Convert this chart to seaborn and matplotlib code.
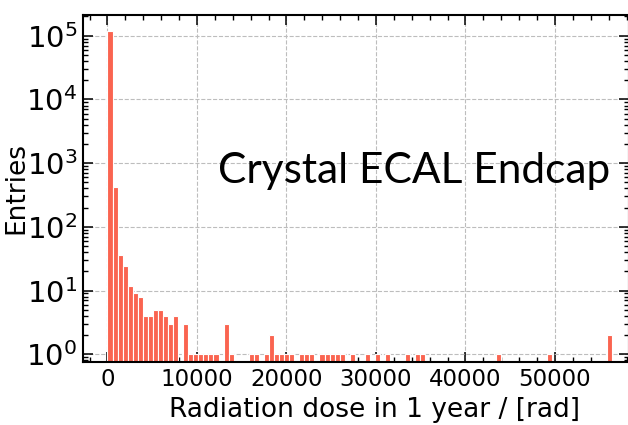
import numpy as np
import pandas as pd
import matplotlib
matplotlib.use("Agg")
import matplotlib.pyplot as plt
import matplotlib.ticker as mticker
import seaborn as sns

# ---- data ----
dose_min = 0.0
dose_max = 56400.0
n_bins = 100
counts = [117000, 427, 36, 24, 12, 9, 8, 4, 4, 5,
          5, 4, 3, 4, 0, 3, 1, 1, 1, 1,
          1, 1, 0, 3, 1, 0, 0, 0, 1, 1,
          0, 1, 2, 1, 1, 1, 1, 0, 1, 1,
          1, 0, 1, 1, 1, 1, 1, 0, 1, 0,
          0, 1, 0, 1, 0, 1, 0, 0, 0, 1,
          0, 1, 1, 0, 0, 0, 0, 0, 0, 0,
          0, 0, 0, 0, 0, 0, 0, 1, 0, 0,
          0, 0, 0, 0, 0, 0, 0, 1, 0, 0,
          0, 0, 0, 0, 0, 0, 0, 0, 0, 2]
x_label = "Radiation dose in 1 year / [rad]"
y_label = "Entries"
annotation = "Crystal ECAL Endcap"

edges = np.linspace(dose_min, dose_max, n_bins + 1)
centers = 0.5 * (edges[:-1] + edges[1:])
df = pd.DataFrame({"dose": centers, "entries": np.asarray(counts, dtype=float)})

sns.set_theme(style="ticks")
plt.rcParams["font.family"] = ["DejaVu Sans"]
plt.rcParams["text.color"] = "black"
plt.rcParams["axes.labelcolor"] = "black"
plt.rcParams["xtick.labelcolor"] = "black"
plt.rcParams["ytick.labelcolor"] = "black"

fig = plt.figure(figsize=(6.28, 4.25), dpi=100)
ax = fig.add_axes([83 / 628, 1 - 362 / 425, (629 - 83) / 628, (362 - 15) / 425])

sns.histplot(data=df, x="dose", weights="entries", bins=n_bins,
             binrange=(dose_min, dose_max), ax=ax,
             color="#FA6450", edgecolor="white", linewidth=0.8, alpha=1.0)
ax.set_yscale("log")
ax.set_xlim(-2737, 58270)
ax.set_ylim(0.757, 2.11e5)

ax.xaxis.set_major_locator(mticker.MultipleLocator(10000))
ax.xaxis.set_minor_locator(mticker.MultipleLocator(2000))
ax.yaxis.set_major_locator(mticker.LogLocator(base=10, numticks=10))
ax.yaxis.set_minor_locator(mticker.LogLocator(base=10, subs=np.arange(2, 10), numticks=20))
ax.yaxis.set_minor_formatter(mticker.NullFormatter())

ax.tick_params(which="both", direction="in", top=True, right=True, color="black",
               labelcolor="black")
ax.tick_params(which="major", length=7.2, width=1.1)
ax.tick_params(which="minor", length=3.6, width=1.0)
ax.tick_params(axis="x", which="major", labelsize=16.5, pad=4)
ax.tick_params(axis="y", which="major", labelsize=21, pad=4)

for s in ax.spines.values():
    s.set_linewidth(1.5)
    s.set_color("black")

ax.grid(which="major", linestyle="--", color="#bdbdbd", linewidth=0.8)
ax.set_axisbelow(True)

ax.set_xlabel(x_label, fontsize=19, color="black")
ax.set_ylabel(y_label, fontsize=19, color="black")
ax.xaxis.set_label_coords(0.534, -0.1)
ax.yaxis.set_label_coords(-0.098, 0.5)

ax.text(0.607, 0.515, annotation, transform=ax.transAxes, ha="center", va="baseline",
        fontsize=30.5, family=["Lato", "DejaVu Sans"], color="black")

fig.savefig("out.png", dpi=100)
